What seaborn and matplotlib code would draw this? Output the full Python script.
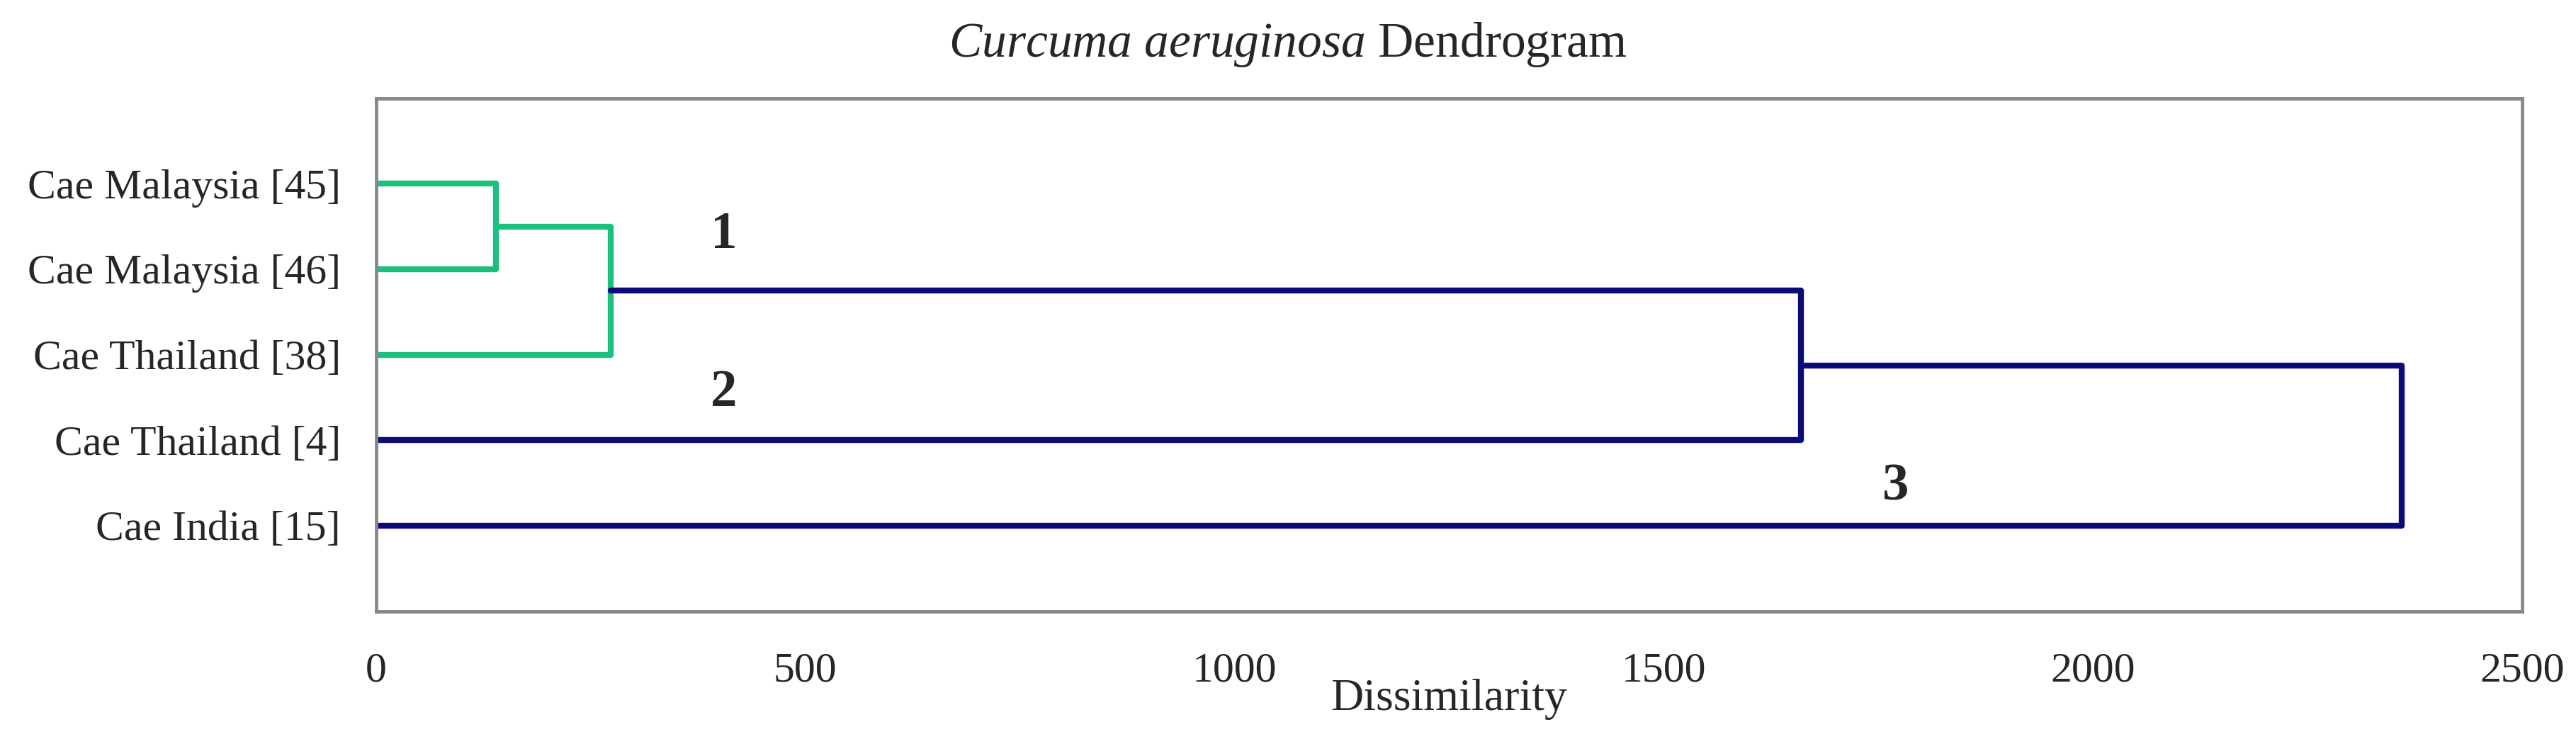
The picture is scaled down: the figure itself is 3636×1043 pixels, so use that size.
import matplotlib
matplotlib.use("Agg")
import matplotlib.pyplot as plt
import seaborn as sns
import pandas as pd

labels = ["Cae Malaysia [45]", "Cae Malaysia [46]", "Cae Thailand [38]", "Cae Thailand [4]", "Cae India [15]"]
leaf_y = [5, 4, 3, 2, 1]
merge_h = [140, 273, 1660, 2360]
cluster_ids = ["1", "2", "3"]
cluster_pos = [(405, 4.4), (405, 2.55), (1770, 1.45)]

sns.set_style("white")
plt.rcParams['font.family'] = ['Liberation Serif', 'DejaVu Serif']
plt.rcParams['mathtext.fontset'] = 'custom'
plt.rcParams['mathtext.it'] = 'Liberation Serif:italic'
plt.rcParams['mathtext.rm'] = 'Liberation Serif'

green = "#1dbf7e"
navy = "#0a0a78"

y45, y46, y38, y4, y15 = leaf_y
h1, h2, h3, h4 = merge_h
m1 = (y45 + y46) / 2
m2 = (m1 + y38) / 2
m3 = (m2 + y4) / 2
links = [
    ([0, h1, h1, 0], [y45, y45, y46, y46], green),
    ([0, h2, h2, h1], [y38, y38, m1, m1], green),
    ([h2, h3, h3, 0], [m2, m2, y4, y4], navy),
    ([h3, h4, h4, 0], [m3, m3, y15, y15], navy),
]

fig = plt.figure(figsize=(36.36, 10.43), dpi=100)
ax = fig.add_axes([0.146, 0.173, 0.833, 0.694])
for i, (xs, ys, c) in enumerate(links):
    df = pd.DataFrame({"x": xs, "y": ys, "o": range(len(xs))})
    sns.lineplot(data=df, x="x", y="y", sort=False, color=c, linewidth=6, ax=ax, estimator=None)

ax.set_xlim(0, 2500)
ax.set_ylim(0, 6)
ax.set_xticks([0, 500, 1000, 1500, 2000, 2500])
ax.set_yticks(leaf_y)
ax.set_yticklabels(labels)
ax.tick_params(axis='both', length=0, labelsize=43)
ax.tick_params(axis='y', pad=36)
ax.tick_params(axis='x', pad=42)
for s in ax.spines.values():
    s.set_color("#888888")
    s.set_linewidth(3.5)
ax.set_xlabel("Dissimilarity", fontsize=46, labelpad=-12)
ax.set_ylabel("")
for t, (x, y) in zip(cluster_ids, cluster_pos):
    ax.text(x, y, t, fontsize=54, fontweight='bold', ha='center', va='center')
fig.text(0.5, 0.94, r"$\it{Curcuma\ aeruginosa}$ Dendrogram", fontsize=50, ha='center', va='center')
fig.savefig("out.png", dpi=100)
